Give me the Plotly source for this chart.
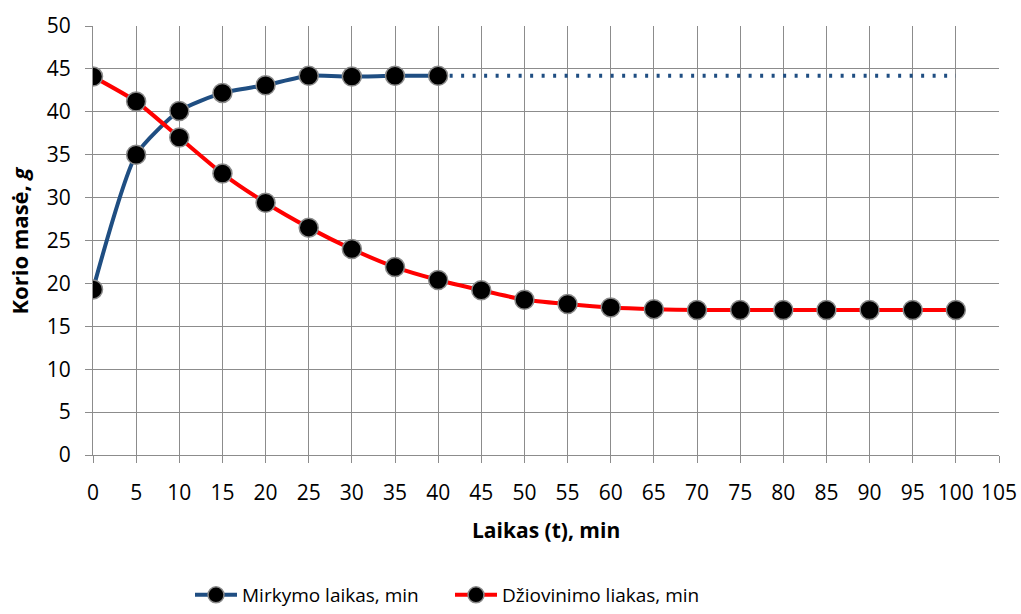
import plotly.graph_objects as go

# Time points (min)
t_soak = [0, 5, 10, 15, 20, 25, 30, 35, 40]
t_dry = [0, 5, 10, 15, 20, 25, 30, 35, 40, 45, 50, 55, 60, 65, 70, 75, 80, 85, 90, 95, 100]

# Honeycomb mass (g)
mass_soak = [19.3, 35.0, 40.1, 42.2, 43.1, 44.2, 44.1, 44.2, 44.2]
mass_dry = [44.1, 41.2, 37.0, 32.8, 29.4, 26.5, 24.0, 21.9, 20.4, 19.2, 18.1,
            17.6, 17.2, 17.0, 16.9, 16.9, 16.9, 16.9, 16.9, 16.9, 16.9]

# Plateau extension of the soaking curve
t_plateau = [40, 100]
mass_plateau = [44.2, 44.2]

BLUE = "#1F4E82"
RED = "#FF0000"
FONT = "Open Sans"

marker = dict(size=19, color="black", line=dict(color="#8a8a8a", width=1.5))

fig = go.Figure()
fig.add_trace(go.Scatter(
    x=t_plateau, y=mass_plateau, mode="lines", showlegend=False,
    line=dict(color=BLUE, width=4, dash="3px,8.5px"), hoverinfo="skip"))
fig.add_trace(go.Scatter(
    x=t_soak, y=mass_soak, mode="lines+markers", name="Mirkymo laikas, min",
    line=dict(color=BLUE, width=4, shape="spline", smoothing=0.6), marker=marker))
fig.add_trace(go.Scatter(
    x=t_dry, y=mass_dry, mode="lines+markers", name="Džiovinimo liakas, min",
    line=dict(color=RED, width=4, shape="spline", smoothing=0.6), marker=marker))

axis_common = dict(
    showgrid=True, gridcolor="#8c8c8c", gridwidth=1,
    showline=True, linecolor="#8c8c8c", linewidth=1,
    ticks="outside", ticklen=7, tickcolor="#8c8c8c",
    tickfont=dict(family=FONT, size=21, color="black"),
    zeroline=False, fixedrange=True, automargin=False,
)

fig.update_layout(
    width=1021, height=614,
    margin=dict(l=93, r=22, t=26, b=159),
    paper_bgcolor="white", plot_bgcolor="white",
    font=dict(family=FONT, color="black"),
    xaxis=dict(range=[0, 105], dtick=5, tick0=0, ticklabelstandoff=12, **axis_common),
    yaxis=dict(range=[0, 50], dtick=5, tick0=0, ticklabelstandoff=10, **axis_common),
    annotations=[
        dict(text="<b>Laikas (t), min</b>", xref="paper", yref="paper",
             x=0.5, y=-75 / 429, xanchor="center", yanchor="middle",
             showarrow=False, font=dict(family=FONT, size=21)),
        dict(text="<b>Korio masė, <i>g</i></b>", xref="paper", yref="paper",
             x=-75 / 906, y=0.5, xanchor="center", yanchor="middle", textangle=-90,
             showarrow=False, font=dict(family=FONT, size=22)),
    ],
    legend=dict(orientation="h", xref="container", yref="container",
                x=190 / 1021, xanchor="left", y=-0.008, yanchor="bottom",
                font=dict(family=FONT, size=19), itemwidth=42,
                entrywidth=203, entrywidthmode="pixels"),
    showlegend=True,
)

fig.write_html("out.html")
